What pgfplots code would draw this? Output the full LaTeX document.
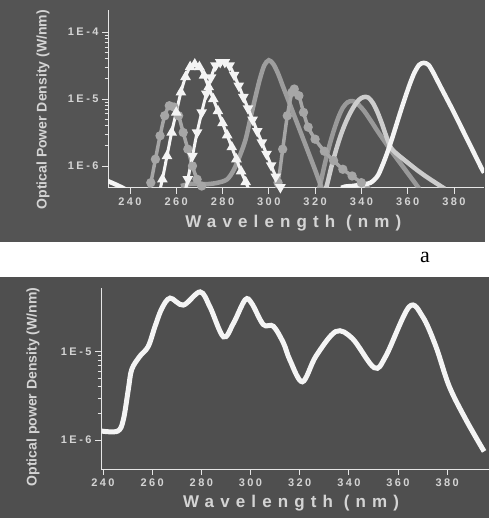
\documentclass[border=0pt]{standalone}
\usepackage{pgfplots}
\pgfplotsset{compat=1.18}
\usepackage{fontspec}
\setmainfont{Liberation Sans}
\newfontfamily\spaced[LetterSpace=22]{Liberation Sans}
\newfontfamily\wide[LetterSpace=36]{Liberation Sans}
\newfontfamily\serif{Liberation Serif}

\definecolor{bgtop}{HTML}{545454}
\definecolor{bgbot}{HTML}{4F4F4F}
\definecolor{txt}{HTML}{D4D4D4}
\definecolor{axc}{HTML}{E6E6E6}
\definecolor{curw}{HTML}{F4F4F4}
\definecolor{curg}{HTML}{A6A6A6}
\definecolor{curl}{HTML}{CDCDCD}

\pgfplotsset{
  mypanel/.style={
    scale only axis, anchor=south west,
    axis lines=left, axis line style={-, draw=axc, line width=1pt},
    tick align=outside, major tick length=6pt, minor tick length=3.5pt,
    tick style={draw=axc, line width=0.8pt},
    xtick={240,260,...,380},
    xticklabels={240,260,280,300,320,340,360,380},
    ticklabel style={text=txt, font=\spaced\bfseries\fontsize{11}{11}\selectfont},
    xlabel style={font=\wide\bfseries\fontsize{17}{17}\selectfont, text=txt, anchor=center},
    ylabel style={font=\bfseries\fontsize{14}{14}\selectfont, text=txt, anchor=center},
  }
}

\begin{document}
\begin{tikzpicture}[x=1pt,y=1pt]
\useasboundingbox (0,0) rectangle (489,518);
\fill[white] (0,0) rectangle (489,518);
\fill[bgtop] (0,276) rectangle (485,518);
\fill[bgbot] (0,0) rectangle (489,241);
\node[font=\serif\fontsize{22}{22}\selectfont] at (425,261) {a};

% ---- top: individual LEDs ----
\begin{axis}[ymode=log, mypanel,
  at={(108pt,330pt)}, width=376pt, height=178pt,
  xmin=230.5, xmax=393, ymin=4.68e-7, ymax=2.14e-4,
  ytick={1e-6,1e-5,1e-4}, yticklabels={1E-6,1E-5,1E-4},
  xlabel={Wavelength (nm)},
  ylabel={Optical Power Density (W/nm)},
  xlabel style={at={(axis description cs:0.493,-0.197)}},
  ylabel style={at={(axis description cs:-0.173,0.44)}},
]
% gray series
\addplot[curg, line width=4.5pt, opacity=0.9, smooth] coordinates {
(262,5.01e-7) (266,5.37e-7) (270,5.37e-7) (274,5.37e-7) (278,5.62e-7) (282,6.31e-7)
(285,8.91e-7) (288,1.58e-6) (290,2.51e-6) (292,5.01e-6) (294,1e-5) (296,1.91e-5)
(298,3.16e-5) (300,3.80e-5) (302,3.31e-5) (304,2.40e-5) (306,1.58e-5) (308,1.05e-5)
(310,6.92e-6) (312,4.57e-6) (314,3.02e-6) (316,2.00e-6) (318,1.32e-6) (320,8.71e-7)
(322,5.62e-7) (324,3.55e-7)};
\addplot[curg, line width=4.5pt, opacity=0.85, smooth] coordinates {
(320,3.16e-7) (322,5.01e-7) (324,1e-6) (326,1.91e-6) (328,3.31e-6) (330,5.25e-6)
(332,7.41e-6) (334,8.91e-6) (336,9.33e-6) (338,8.71e-6) (341,6.76e-6) (344,4.79e-6)
(347,3.31e-6) (350,2.34e-6) (353,1.66e-6) (356,1.20e-6) (359,8.71e-7) (362,6.31e-7)
(365,4.57e-7)};
\addplot[curg, line width=3.5pt, mark=*, mark size=2.8pt, mark options={fill=curg, draw=curg}, smooth] coordinates {
(247,3.16e-7) (249,5.62e-7) (251,1.26e-6) (253,2.82e-6) (255,5.62e-6) (257,7.94e-6)
(259,7.59e-6) (261,5.62e-6) (263,3.16e-6) (265,1.78e-6) (267,1e-6) (269,6.31e-7)
(271,5.01e-7) (273,3.98e-7)};
\addplot[curg, line width=3.5pt, mark=*, mark size=2.8pt, mark options={fill=curg, draw=curg}, smooth] coordinates {
(302,3.16e-7) (304,5.62e-7) (306,1.78e-6) (308,5.62e-6) (310,1.26e-5) (311,1.41e-5)
(313,1.12e-5) (315,6.31e-6) (317,3.80e-6) (320,2.51e-6) (324,1.66e-6) (328,1.20e-6)
(332,8.91e-7) (336,7.08e-7) (340,5.62e-7) (344,4.47e-7)};
\addplot[curl, line width=4.5pt, smooth] coordinates {
(323,3.16e-7) (325,5.01e-7) (327,9.55e-7) (329,1.70e-6) (331,2.82e-6) (333,4.27e-6)
(335,6.03e-6) (337,7.94e-6) (339,9.77e-6) (341,1.07e-5) (343,1.05e-5) (345,8.71e-6)
(347,6.31e-6) (349,4.17e-6) (351,2.63e-6) (353,1.82e-6) (356,1.45e-6) (360,1.12e-6)
(364,8.71e-7) (368,6.92e-7) (372,5.62e-7) (376,4.57e-7)};
% white series
\addplot[curw, line width=3pt, mark=triangle*, mark size=3.2pt, mark options={fill=curw, draw=curw}, smooth] coordinates {
(252,3.16e-7) (254,6.31e-7) (256,1.41e-6) (258,3.16e-6) (260,6.31e-6) (262,1.26e-5)
(264,2.14e-5) (266,3.02e-5) (268,3.31e-5) (270,3.02e-5) (272,2.24e-5) (274,1.51e-5)
(276,1e-5) (278,6.61e-6) (280,4.37e-6) (282,2.88e-6) (284,1.91e-6) (286,1.26e-6)
(288,8.32e-7) (290,5.75e-7) (292,3.98e-7)};
\addplot[curw, line width=3pt, mark=triangle*, mark size=3.2pt, mark options={fill=curw, draw=curw, rotate=180}, smooth] coordinates {
(263,3.16e-7) (265,6.31e-7) (267,1.41e-6) (269,3.16e-6) (271,6.31e-6) (273,1.20e-5)
(275,2.09e-5) (277,3.16e-5) (279,3.55e-5) (281,3.55e-5) (283,3.16e-5) (285,2.29e-5)
(287,1.58e-5) (289,1.07e-5) (291,7.24e-6) (293,4.90e-6) (295,3.31e-6) (297,2.24e-6)
(299,1.51e-6) (301,1.02e-6) (303,6.92e-7) (305,4.79e-7) (307,3.31e-7)};
\addplot[curw, line width=4.5pt, smooth] coordinates {
(230,6.03e-7) (234,5.25e-7) (238,4.47e-7) (242,3.55e-7) (328,3.55e-7) (332,4.79e-7)
(336,5.01e-7) (340,5.25e-7) (344,5.62e-7) (347,7.08e-7) (349,1e-6) (351,1.51e-6)
(353,2.40e-6) (355,3.98e-6) (357,6.61e-6) (359,1.07e-5) (361,1.70e-5) (363,2.51e-5)
(365,3.24e-5) (367,3.47e-5) (369,3.24e-5) (371,2.51e-5) (374,1.58e-5) (377,1e-5)
(380,6.31e-6) (383,3.89e-6) (386,2.40e-6) (389,1.48e-6) (392,9.12e-7) (393,7.94e-7)};
\end{axis}

% ---- bottom: combined source ----
\begin{axis}[ymode=log, mypanel,
  at={(101pt,49pt)}, width=388pt, height=181pt,
  xmin=239.2, xmax=397, ymin=4.68e-7, ymax=5.3e-5,
  ytick={1e-6,1e-5}, yticklabels={1E-6,1E-5},
  xlabel={Wavelength (nm)},
  ylabel={Optical power Density (W/nm)},
  xlabel style={at={(axis description cs:0.49,-0.188)}},
  ylabel style={at={(axis description cs:-0.175,0.453)}},
]
\addplot[curw, line width=5pt, smooth, tension=0.55] coordinates {
(239.5,1.26e-6) (246,1.26e-6) (248.3,1.70e-6) (250.3,3.72e-6) (251.7,6.31e-6)
(255,8.91e-6) (258.4,1.15e-5) (261.2,1.95e-5) (263.9,3.09e-5) (267.3,4.07e-5)
(272.7,3.39e-5) (279.5,4.79e-5) (283.5,3.24e-5) (289,1.48e-5) (293,2.09e-5)
(297.8,3.89e-5) (300.5,3.55e-5) (305.2,2.04e-5) (309.3,1.95e-5) (313.4,1.26e-5)
(316,8.1e-6) (321.1,4.57e-6) (326.6,8.91e-6) (334.7,1.70e-5) (341.5,1.41e-5)
(350.3,6.61e-6) (355,8.91e-6) (364.5,3.24e-5) (370,2.51e-5) (375.4,1.15e-5)
(380.8,4.07e-6) (387.6,1.70e-6) (395,7.41e-7)};
\end{axis}
\end{tikzpicture}
\end{document}
